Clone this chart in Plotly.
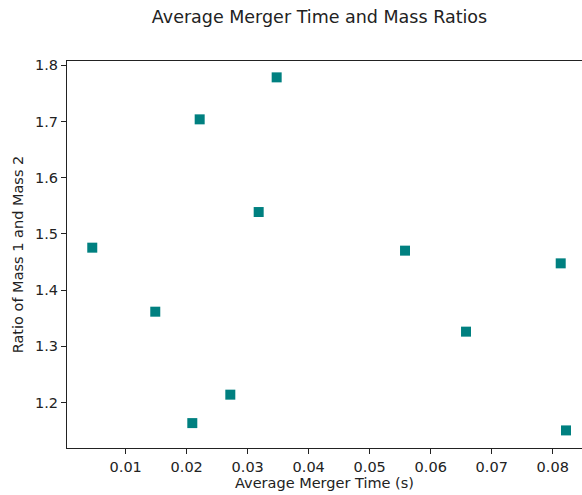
import plotly.graph_objects as go

merger_time = [0.00452, 0.01485, 0.02092, 0.02213, 0.02715, 0.0318, 0.03475,
               0.05579, 0.06579, 0.08131, 0.08218]
mass_ratio = [1.4756, 1.3617, 1.1635, 1.7039, 1.2141, 1.539, 1.7786,
              1.4703, 1.3262, 1.4477, 1.1505]

x_ticks = [0.01, 0.02, 0.03, 0.04, 0.05, 0.06, 0.07, 0.08]
y_ticks = [1.2, 1.3, 1.4, 1.5, 1.6, 1.7, 1.8]

FONT = "DejaVu Sans"

fig = go.Figure(go.Scatter(
    x=merger_time, y=mass_ratio, mode="markers",
    marker=dict(symbol="square", size=10, color="#008080", line=dict(width=0)),
))

fig.update_layout(
    width=582, height=495,
    margin=dict(l=67, r=0, t=61, b=47),
    paper_bgcolor="white", plot_bgcolor="white",
    font=dict(family=FONT, size=14.5, color="#222222"),
    showlegend=False,
    title=dict(text="Average Merger Time and Mass Ratios", font=dict(family=FONT, size=17.5, color="#222222"),
               x=0.549, xref="container", xanchor="center", y=1 - 17 / 495, yref="container", yanchor="middle"),
    xaxis=dict(range=[0.00038, 0.0848], tickvals=x_ticks, ticktext=[f"{v:.2f}" for v in x_ticks],
               showgrid=False, zeroline=False, showline=True, linecolor="#222222", linewidth=1.2,
               mirror=True, ticks="outside", ticklen=5, tickcolor="#222222",
               tickfont=dict(size=14.5),
               title=dict(text="Average Merger Time (s)", standoff=4, font=dict(size=14.5))),
    yaxis=dict(range=[1.1192, 1.8077], tickvals=y_ticks, ticktext=[f"{v:.1f}" for v in y_ticks],
               showgrid=False, zeroline=False, showline=True, linecolor="#222222", linewidth=1.2,
               mirror=False, ticks="outside", ticklen=5, tickcolor="#222222",
               tickfont=dict(size=14.5),
               title=dict(text="Ratio of Mass 1 and Mass 2", standoff=7, font=dict(size=14.5))),
)

fig.write_html("out.html")
